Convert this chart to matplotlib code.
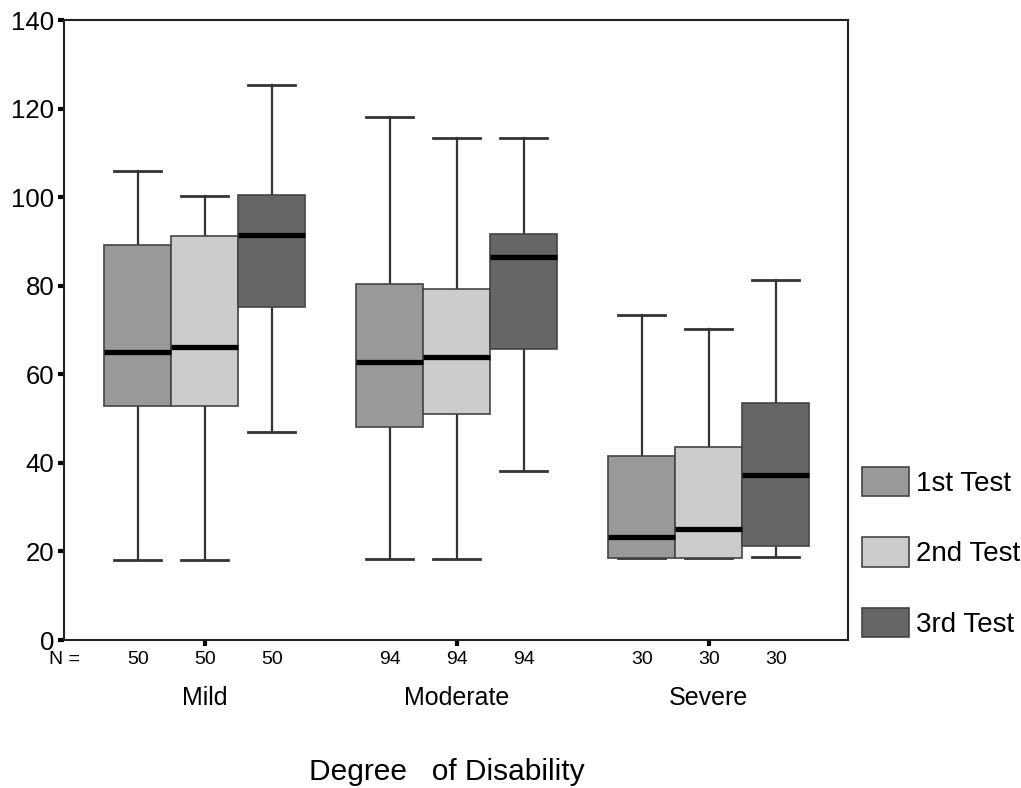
import matplotlib
matplotlib.use("Agg")
import matplotlib.pyplot as plt
from matplotlib.patches import Patch
from matplotlib.transforms import blended_transform_factory

plt.rcParams['font.family'] = ['Liberation Sans', 'DejaVu Sans']

groups = ['Mild', 'Moderate', 'Severe']
tests = ['1st Test', '2nd Test', '3rd Test']
n_counts = [50, 94, 30]
colors = ['#999999', '#cccccc', '#666666']

# per test, values for Mild, Moderate, Severe
whishi = [[106.0, 118.1, 73.4], [100.3, 113.4, 70.2], [125.3, 113.4, 81.3]]
q3 = [[89.2, 80.4, 41.5], [91.2, 79.3, 43.6], [100.5, 91.7, 53.5]]
med = [[65.0, 62.8, 23.3], [66.2, 63.9, 25.1], [91.4, 86.5, 37.3]]
q1 = [[52.8, 48.1, 18.5], [52.8, 51.0, 18.5], [75.2, 65.7, 21.2]]
whislo = [[18.1, 18.3, 18.5], [18.1, 18.3, 18.5], [47.0, 38.2, 18.7]]

yticks = [0, 20, 40, 60, 80, 100, 120, 140]

fig = plt.figure(figsize=(10.21, 7.88), dpi=100)
ax = fig.add_axes([64/1021, 1-640/788, (848-64)/1021, 620/788])

group_gap = 3.76
for t in range(3):
    stats = []
    pos = []
    for g in range(3):
        stats.append(dict(whislo=whislo[t][g], q1=q1[t][g], med=med[t][g],
                          q3=q3[t][g], whishi=whishi[t][g], fliers=[]))
        pos.append(g*group_gap + (t-1))
    ax.bxp(stats, positions=pos, widths=1.0, capwidths=0.7, patch_artist=True,
           showfliers=False,
           boxprops=dict(facecolor=colors[t], edgecolor='#444444', linewidth=1.2, zorder=3),
           medianprops=dict(color='black', linewidth=3.8, solid_capstyle='butt', zorder=4),
           whiskerprops=dict(color='#333333', linewidth=1.6, zorder=2),
           capprops=dict(color='#333333', linewidth=2.0, zorder=2))

ax.set_xlim(-2.10, 9.60)
ax.set_ylim(0, 140)
ax.set_yticks(yticks)
ax.set_yticklabels([str(v) for v in yticks], fontsize=18.5)
ax.set_xticks([g*group_gap for g in range(3)])
ax.set_xticklabels([''] * 3)
ax.tick_params(axis='both', direction='out', length=4, width=3, color='black', pad=3)
for s in ax.spines.values():
    s.set_linewidth(1.5)
    s.set_color('#222222')

trans = blended_transform_factory(ax.transData, ax.transAxes)
ax.text(-2.09, -0.032, 'N =', transform=trans, ha='center', va='center',
        fontsize=14, clip_on=False)
for g in range(3):
    for t in range(3):
        ax.text(g*group_gap + (t-1), -0.032, str(n_counts[g]), transform=trans,
                ha='center', va='center', fontsize=14)
    ax.text(g*group_gap, -0.094, groups[g], transform=trans, ha='center',
            va='center', fontsize=18)

fig.text(447/1021, 1-772/788, 'Degree   of Disability', ha='center', va='center', fontsize=21.5)

handles = [Patch(facecolor=colors[t], edgecolor='#444444', linewidth=1.2) for t in range(3)]
fig.legend(handles, tests, loc='upper left', bbox_to_anchor=(862/1021, 1-467/788),
           frameon=False, fontsize=20, handlelength=1.69, handleheight=1.25,
           labelspacing=1.45, handletextpad=0.25, borderpad=0, borderaxespad=0)

fig.savefig('out.png', dpi=100)
